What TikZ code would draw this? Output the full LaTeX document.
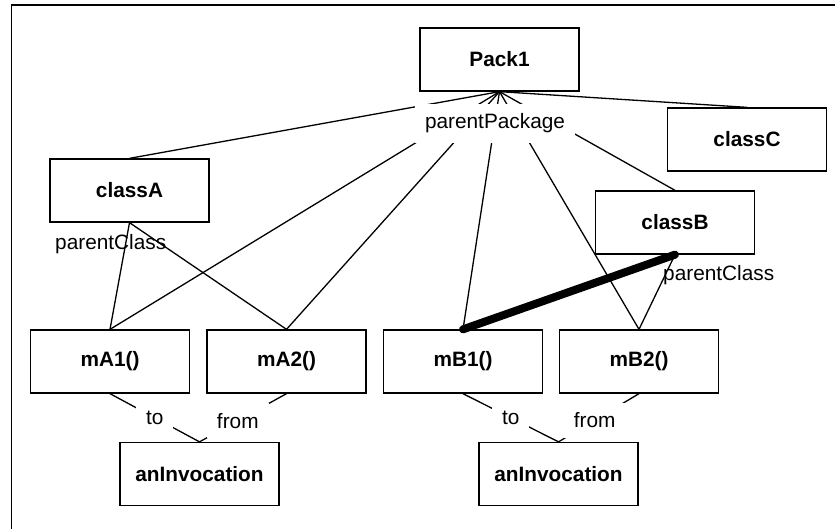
\documentclass[tikz,border=0pt]{standalone}
\usepackage{fontspec}
\setmainfont{Liberation Sans}
\newcommand\dgfont{\fontsize{20.8pt}{25pt}\selectfont}
\begin{document}
\begin{tikzpicture}[x=1pt,y=-1pt,
  box/.style={draw,line width=1.3pt,minimum width=159pt,minimum height=63pt,inner sep=0pt,font=\dgfont\bfseries},
  conn/.style={line width=1.3pt},
  thickconn/.style={line width=8pt,line cap=round},
  lbl/.style={fill=white,inner sep=10pt,font=\dgfont},
  plainlbl/.style={inner sep=0pt,anchor=base west,font=\dgfont}]
\useasboundingbox (0,0) rectangle (835,529);
% outer frame (only left and top edges are visible)
\draw[line width=1.2pt] (11.5,529) -- (11.5,5) -- (835,5);
% boxes
\node[box] (pack) at (499.5,59.5) {Pack1};
\node[box] (classA) at (129.5,190.5) {classA};
\node[box] (classB) at (675,222.5) {classB};
\node[box] (classC) at (747,139.5) {classC};
\node[box] (mA1) at (110,361.5) {mA1()};
\node[box] (mA2) at (286.5,361.5) {mA2()};
\node[box] (mB1) at (463,361.5) {mB1()};
\node[box] (mB2) at (639,361.5) {mB2()};
\node[box] (inv1) at (199.5,474) {anInvocation};
\node[box] (inv2) at (558.5,474) {anInvocation};
% parentPackage connectors
\draw[conn] (pack.south) -- (classA.north);
\draw[conn] (pack.south) -- (mA1.north);
\draw[conn] (pack.south) -- (mA2.north);
\draw[conn] (pack.south) -- (mB1.north);
\draw[conn] (pack.south) -- (mB2.north);
\draw[conn] (pack.south) -- (classB.north);
\draw[conn] (pack.south) -- (classC.north);
\node[lbl,anchor=base] (pp) at (495,129) {parentPackage};
% parentClass connectors
\draw[conn] (classA.south) -- (mA1.north);
\draw[conn] (classA.south) -- (mA2.north);
\draw[conn] (classB.south) -- (mB2.north);
\node[plainlbl] (pcA) at (55,250) {parentClass};
\node[plainlbl] (pcB) at (663,280) {parentClass};
% thick link
\draw[thickconn] (mB1.north) -- (classB.south);
% invocation connectors
\draw[conn] (mA1.south) -- node[lbl,pos=0.5] (toA) {to} (inv1.north);
\draw[conn] (mA2.south) -- node[lbl,pos=0.56] (fromA) {from} (inv1.north);
\draw[conn] (mB1.south) -- node[lbl,pos=0.5] (toB) {to} (inv2.north);
\draw[conn] (mB2.south) -- node[lbl,pos=0.55] (fromB) {from} (inv2.north);
\end{tikzpicture}
\end{document}
